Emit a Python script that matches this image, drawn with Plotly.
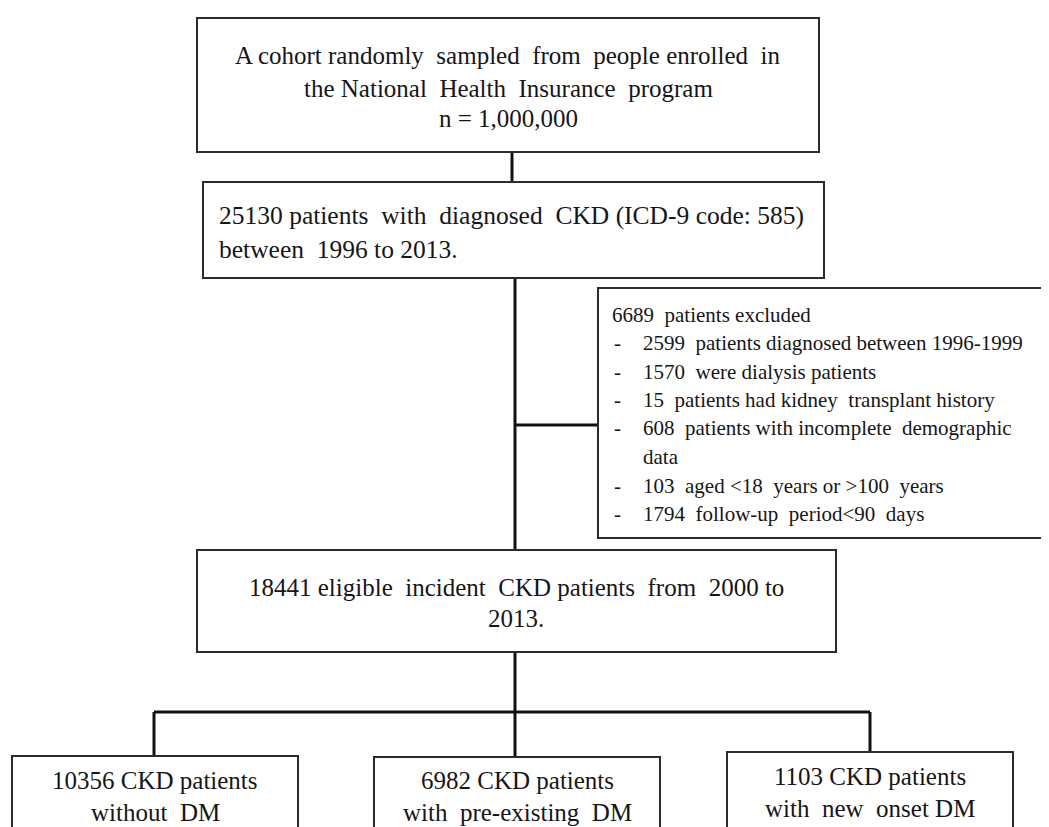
import plotly.graph_objects as go

NB = "\u00a0"

# ---- data (texts of the flowchart) ----
box1_lines = ["A cohort randomly" + NB + " sampled" + NB + " from" + NB + " people enrolled" + NB + " in",
              "the National" + NB + " Health" + NB + " Insurance" + NB + " program",
              "n = 1,000,000"]
box2_lines = ["25130 patients" + NB + " with" + NB + " diagnosed" + NB + " CKD (ICD-9 code: 585)",
              "between" + NB + " 1996 to 2013."]
excl_title = "6689" + NB + " patients excluded"
excl_items = ["2599" + NB + " patients diagnosed between 1996-1999",
              "1570" + NB + " were dialysis patients",
              "15" + NB + " patients had kidney" + NB + " transplant history",
              "608" + NB + " patients with incomplete" + NB + " demographic",
              None,
              "103" + NB + " aged <18" + NB + " years or >100" + NB + " years",
              "1794" + NB + " follow-up" + NB + " period<90" + NB + " days"]
excl_cont = "data"
box4_lines = ["18441 eligible" + NB + " incident" + NB + " CKD patients" + NB + " from" + NB + " 2000 to",
              "2013."]
bottom_lines = [["10356 CKD patients", "without" + NB + " DM"],
                ["6982 CKD patients", "with" + NB + " pre-existing" + NB + " DM"],
                ["1103 CKD patients", "with" + NB + " new" + NB + " onset DM"]]

# ---- layout geometry (coordinates in screenshot pixels; page has 8px body margin) ----
W, H = 1049, 827
OFF = 8
FONT = "Liberation Serif"
TXT = "#161616"
BOX_LINE = dict(color="#2b2b2b", width=2)
CONN = dict(color="#111111", width=3)

fig = go.Figure()
fig.add_trace(go.Scatter(x=[OFF, W + OFF], y=[OFF, H + OFF], mode="markers",
                         marker=dict(opacity=0), hoverinfo="skip", showlegend=False))

shapes = []
def rect(x0, y0, x1, y1):
    shapes.append(dict(type="rect", xref="x", yref="y", x0=x0, y0=y0, x1=x1, y1=y1,
                       line=BOX_LINE, fillcolor="rgba(0,0,0,0)", layer="above"))
def line(x0, y0, x1, y1):
    shapes.append(dict(type="line", xref="x", yref="y", x0=x0, y0=y0, x1=x1, y1=y1,
                       line=CONN, layer="below"))

# boxes
rect(197, 18, 819, 152)
rect(203, 182, 824, 278)
rect(598, 288, 1080, 538)
rect(197, 550, 836, 652)
bottom_boxes = [(12, 756, 298), (374, 757, 660), (727, 752, 1013)]
for x0, y0, x1 in bottom_boxes:
    rect(x0, y0, x1, 880)

# connectors
line(512, 152, 512, 182)
line(515, 278, 515, 550)
line(515, 425, 598, 425)
line(515, 652, 515, 712)
line(154, 712, 870, 712)
line(154, 712, 154, 756)
line(515, 712, 515, 757)
line(870, 712, 870, 752)

ann = []
def text(x, y, s, size, xanchor="center"):
    ann.append(dict(x=x, y=y, xref="x", yref="y", text=s, showarrow=False,
                    xanchor=xanchor, yanchor="middle",
                    font=dict(family=FONT, size=size, color=TXT)))

for s, y in zip(box1_lines, [55, 88, 118]):
    text(508, y, s, 25)
for s, y in zip(box2_lines, [215, 249]):
    text(217, y, s, 25.5, "left")

excl_y = [315, 343, 372, 400, 428, 457, 486, 514]
text(610, excl_y[0], excl_title, 21, "left")
for s, y in zip(excl_items, excl_y[1:]):
    if s is None:
        text(641, y, excl_cont, 21, "left")
    else:
        text(612, y, "-", 21, "left")
        text(641, y, s, 21, "left")

for s, y in zip(box4_lines, [587, 618]):
    text(516, y, s, 25)

centers = [155, 517, 870]
ys = [[780, 812], [780, 812], [776, 808]]
for lines_, cx, yy in zip(bottom_lines, centers, ys):
    for s, y in zip(lines_, yy):
        text(cx, y, s, 25)

fig.update_layout(
    width=W, height=H,
    margin=dict(l=0, r=0, t=0, b=0),
    paper_bgcolor="white", plot_bgcolor="white",
    xaxis=dict(range=[OFF, W + OFF], visible=False, fixedrange=True),
    yaxis=dict(range=[H + OFF, OFF], visible=False, fixedrange=True),
    shapes=shapes, annotations=ann, showlegend=False,
)
fig.write_html("out.html")
